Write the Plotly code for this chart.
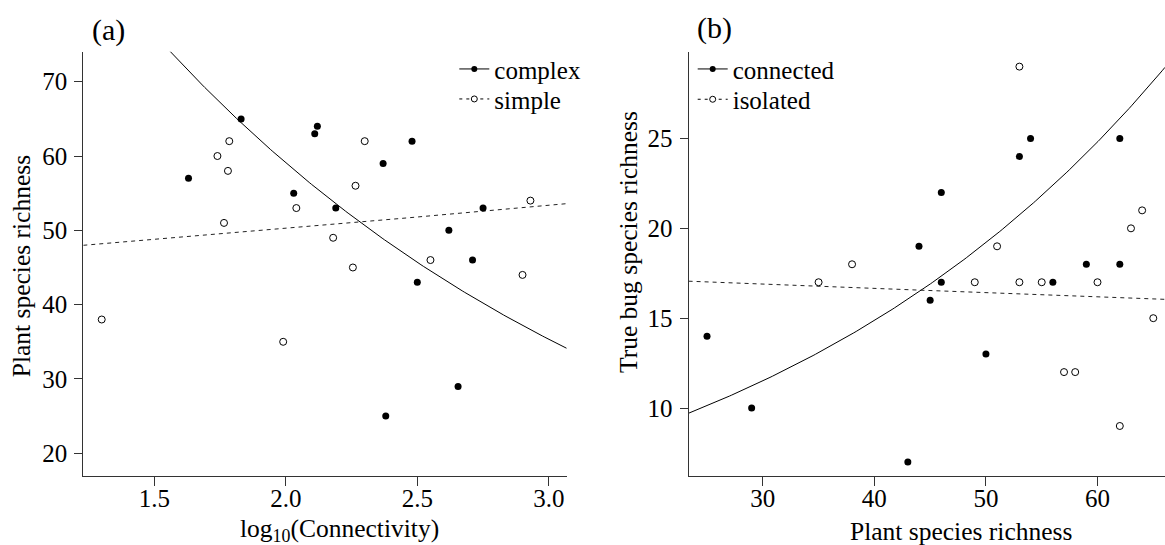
import numpy as np
import plotly.graph_objects as go

W, H = 1165, 545

# ---------------- Panel (a) data ----------------
complex_x = [1.63, 1.83, 2.11, 2.12, 2.03, 2.19, 2.37, 2.48, 2.62, 2.75, 2.71, 2.50, 2.655, 2.38]
complex_y = [57, 65, 63, 64, 55, 53, 59, 62, 50, 53, 46, 43, 29, 25]
simple_x = [1.30, 1.74, 1.785, 1.78, 1.765, 1.99, 2.04, 2.18, 2.255, 2.265, 2.30, 2.55, 2.90, 2.93]
simple_y = [38, 60, 62, 58, 51, 35, 53, 49, 45, 56, 62, 46, 44, 54]
# log-linear fit coefficients  y = exp(a + b*x)
complex_fit = (5.107, -0.514)
simple_fit = (3.797, 0.0601)

# ---------------- Panel (b) data ----------------
connected_x = [25, 29, 43, 44, 45, 46, 46, 50, 53, 54, 56, 59, 62, 62]
connected_y = [14, 10, 7, 19, 16, 22, 17, 13, 24, 25, 17, 18, 18, 25]
isolated_x = [35, 38, 49, 51, 53, 53, 55, 57, 58, 60, 62, 63, 64, 65]
isolated_y = [17, 18, 17, 19, 29, 17, 17, 12, 12, 17, 9, 20, 21, 15]
connected_fit = (1.6757, 0.02559)
isolated_fit = (2.870, -0.001429)

xa_range = [1.23, 3.068]
ya_range = [16.9, 74.04]
xb_range = [23.35, 66.05]
yb_range = [6.2, 29.83]
xa_ticks = [1.5, 2.0, 2.5, 3.0]
ya_ticks = [20, 30, 40, 50, 60, 70]
xb_ticks = [30, 40, 50, 60]
yb_ticks = [10, 15, 20, 25]

FONT = "Liberation Serif, Times New Roman, serif"
FS_TICK = 25
FS_TITLE = 25.5
FS_LEG = 25


def fit_curve(coef, rng, n=200):
    xs = np.linspace(rng[0], rng[1], n)
    return xs, np.exp(coef[0] + coef[1] * xs)


def px_x(p):
    return p / W


def px_y(p):
    return 1 - p / H


fig = go.Figure()

panels = [
    dict(ax="x", ay="y", rng=xa_range, fits=(complex_fit, simple_fit),
         filled=(complex_x, complex_y), opened=(simple_x, simple_y),
         names=("complex", "simple"), legs=("legend", "legend2")),
    dict(ax="x2", ay="y2", rng=xb_range, fits=(connected_fit, isolated_fit),
         filled=(connected_x, connected_y), opened=(isolated_x, isolated_y),
         names=("connected", "isolated"), legs=("legend3", "legend4")),
]

for p in panels:
    xs, ys = fit_curve(p["fits"][0], p["rng"])
    fig.add_trace(go.Scatter(x=xs, y=ys, mode="lines", line=dict(color="black", width=1),
                             showlegend=False, xaxis=p["ax"], yaxis=p["ay"], hoverinfo="skip"))
    xs, ys = fit_curve(p["fits"][1], p["rng"])
    fig.add_trace(go.Scatter(x=xs, y=ys, mode="lines",
                             line=dict(color="#222", width=1, dash="4px,4px"),
                             showlegend=False, xaxis=p["ax"], yaxis=p["ay"], hoverinfo="skip"))
    fig.add_trace(go.Scatter(x=p["filled"][0], y=p["filled"][1], mode="markers",
                             marker=dict(color="black", size=7, symbol="circle"),
                             showlegend=False, xaxis=p["ax"], yaxis=p["ay"]))
    fig.add_trace(go.Scatter(x=p["opened"][0], y=p["opened"][1], mode="markers",
                             marker=dict(color="white", size=7, symbol="circle",
                                         line=dict(color="black", width=1)),
                             showlegend=False, xaxis=p["ax"], yaxis=p["ay"]))
    fig.add_trace(go.Scatter(x=[None], y=[None], mode="lines+markers", name=p["names"][0],
                             line=dict(color="black", width=1),
                             marker=dict(color="black", size=6), legend=p["legs"][0],
                             xaxis=p["ax"], yaxis=p["ay"]))
    fig.add_trace(go.Scatter(x=[None], y=[None], mode="lines+markers", name=p["names"][1],
                             line=dict(color="black", width=1, dash="3px,4px"),
                             marker=dict(color="white", size=6, line=dict(color="black", width=1)),
                             legend=p["legs"][1], xaxis=p["ax"], yaxis=p["ay"]))

axis_common = dict(showline=True, linecolor="#333", linewidth=1, ticks="outside",
                   tickcolor="#333", tickwidth=1, showgrid=False, zeroline=False,
                   tickfont=dict(family=FONT, size=FS_TICK, color="black"), mirror=False)

ydom = [px_y(476.3), px_y(51.7)]


def leg(xpx, ypx):
    return dict(x=px_x(xpx), y=px_y(ypx - 24.5), xanchor="left", yanchor="top",
                bgcolor="rgba(0,0,0,0)", font=dict(family=FONT, size=FS_LEG, color="black"),
                itemwidth=30)


fig.update_layout(
    width=W, height=H,
    margin=dict(l=0, r=0, t=0, b=0),
    paper_bgcolor="white", plot_bgcolor="white",
    font=dict(family=FONT, size=FS_TICK, color="black"),
    xaxis=dict(domain=[px_x(83.3), px_x(566.7)], range=xa_range, tickvals=xa_ticks,
               tickformat=".1f", ticklen=9, ticklabelstandoff=-9, anchor="y", **axis_common),
    yaxis=dict(domain=ydom, range=ya_range, tickvals=ya_ticks, ticklen=8, ticklabelstandoff=2,
               anchor="x", **axis_common),
    xaxis2=dict(domain=[px_x(688.6), 1.0], range=xb_range, tickvals=xb_ticks,
                ticklen=9, ticklabelstandoff=-9, anchor="y2", **axis_common),
    yaxis2=dict(domain=ydom, range=yb_range, tickvals=yb_ticks, ticklen=8, ticklabelstandoff=2,
                anchor="x2", **axis_common),
    legend=leg(454.3, 70.7),
    legend2=leg(454.3, 100.7),
    legend3=leg(692.7, 70.7),
    legend4=leg(692.7, 101.0),
    annotations=[
        dict(text="(a)", x=px_x(108), y=px_y(30), xref="paper", yref="paper",
             showarrow=False, font=dict(family=FONT, size=30), xanchor="center", yanchor="middle"),
        dict(text="(b)", x=px_x(714), y=px_y(28), xref="paper", yref="paper",
             showarrow=False, font=dict(family=FONT, size=30), xanchor="center", yanchor="middle"),
        dict(text="log<sub>10</sub>(Connectivity)", x=px_x(339.7), y=px_y(530), xref="paper",
             yref="paper", showarrow=False, font=dict(family=FONT, size=FS_TITLE),
             xanchor="center", yanchor="middle"),
        dict(text="Plant species richness", x=px_x(960.6), y=px_y(531), xref="paper",
             yref="paper", showarrow=False, font=dict(family=FONT, size=FS_TITLE),
             xanchor="center", yanchor="middle"),
        dict(text="Plant species richness", x=px_x(21.3), y=px_y(266), xref="paper",
             yref="paper", showarrow=False, font=dict(family=FONT, size=FS_TITLE), textangle=-90,
             xanchor="center", yanchor="middle"),
        dict(text="True bug species richness", x=px_x(628.5), y=px_y(242.5), xref="paper",
             yref="paper", showarrow=False, font=dict(family=FONT, size=FS_TITLE), textangle=-90,
             xanchor="center", yanchor="middle"),
    ],
)

fig.write_html("out.html")
